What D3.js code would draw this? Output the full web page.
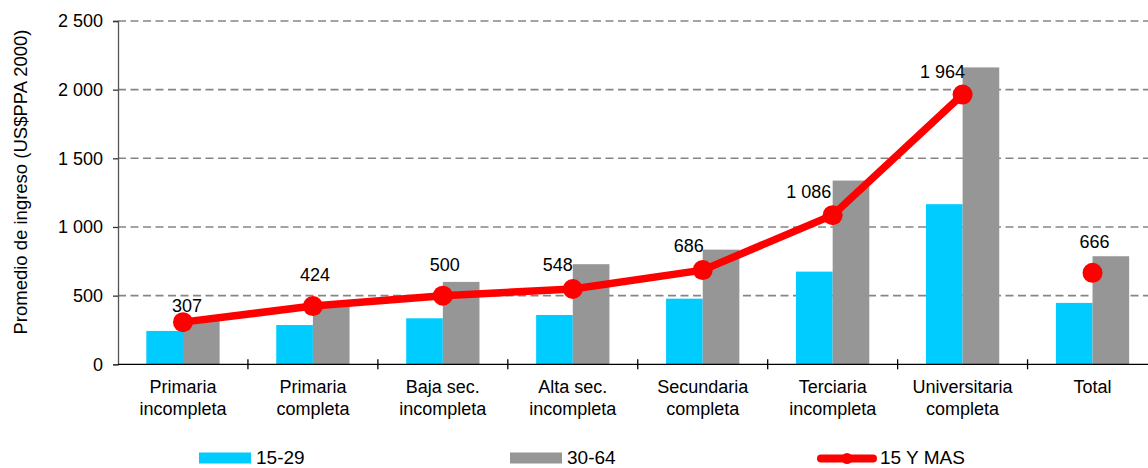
<!DOCTYPE html>
<html>
<head>
<meta charset="utf-8">
<script src="https://cdn.jsdelivr.net/npm/d3@7"></script>
<style>
  html, body { margin: 0; padding: 0; background: #fff; }
  svg { display: block; font-family: "Liberation Sans", Arial, sans-serif; }
</style>
</head>
<body>
<svg id="chart" width="1148" height="468"></svg>
<script>
const categories = [
  ["Primaria", "incompleta"],
  ["Primaria", "completa"],
  ["Baja sec.", "incompleta"],
  ["Alta sec.", "incompleta"],
  ["Secundaria", "completa"],
  ["Terciaria", "incompleta"],
  ["Universitaria", "completa"],
  ["Total"]
];
const seriesNames = ["15-29", "30-64", "15 Y MAS"];
const young = [243, 286, 335, 359, 478, 675, 1166, 447];
const adult = [316, 425, 600, 729, 835, 1338, 2162, 787];
const all15 = [307, 424, 500, 548, 686, 1086, 1964, 666];
const yTicks = [0, 500, 1000, 1500, 2000, 2500];
const yTitle = "Promedio de ingreso (US$PPA 2000)";
// label nudges (px) for the value labels [dx, dy]
const labelNudge = [[4, -16], [2, -31], [2, -31], [-15, -24], [-14, -24], [-24, -23], [-20, -23], [2, -31]];

const colors = { young: "#00CCFF", adult: "#969696", line: "#FF0000" };
const fmt = v => d3.format(",")(v).replace(/,/g, " ");

const svg = d3.select("#chart");
const mLeft = 118, mRight = 1157.5, mTop = 21, mBottom = 364.3;

const catKeys = categories.map(c => c.join(" "));
const x0 = d3.scaleBand().domain(catKeys).range([mLeft, mRight]).padding(0);
const bw = x0.bandwidth();
const x1 = d3.scaleBand().domain(["young", "adult"]).range([bw * 0.218, bw * 0.782]).padding(0);
const y = d3.scaleLinear().domain([0, 2500]).range([mBottom, mTop]);

// grid lines
svg.append("g").selectAll("line").data(yTicks.filter(t => t > 0)).join("line")
  .attr("x1", mLeft).attr("x2", 1148)
  .attr("y1", d => y(d)).attr("y2", d => y(d))
  .attr("stroke", "#858585").attr("stroke-width", 1.6)
  .attr("stroke-dasharray", "8,4.5");

// bars
const rows = catKeys.map((k, i) => ({ k, young: young[i], adult: adult[i] }));
const bars = svg.append("g");
["young", "adult"].forEach(s => {
  bars.selectAll("rect." + s).data(rows).join("rect")
    .attr("class", s)
    .attr("x", d => x0(d.k) + x1(s))
    .attr("width", x1.bandwidth())
    .attr("y", d => y(d[s]))
    .attr("height", d => y(0) - y(d[s]))
    .attr("fill", colors[s]);
});

// y axis
const yAxis = d3.axisLeft(y).tickValues(yTicks).tickSize(5).tickPadding(10)
  .tickFormat(d => fmt(d));
const gy = svg.append("g").attr("transform", `translate(${mLeft},0)`).call(yAxis);
gy.select(".domain").attr("stroke", "#555").attr("stroke-width", 1.3);
gy.selectAll(".tick line").attr("stroke", "#333").attr("stroke-width", 1.3);
gy.selectAll(".tick text").attr("font-size", 18).attr("fill", "#000")
  .attr("font-family", "Liberation Sans, Arial, sans-serif");

// x axis
svg.append("line").attr("x1", mLeft).attr("x2", 1148)
  .attr("y1", y(0)).attr("y2", y(0)).attr("stroke", "#000").attr("stroke-width", 1.3);
const boundaries = catKeys.map(k => x0(k)).slice(1);
svg.append("g").selectAll("line").data(boundaries).join("line")
  .attr("x1", d => d).attr("x2", d => d)
  .attr("y1", y(0) - 5).attr("y2", y(0) + 5)
  .attr("stroke", "#000").attr("stroke-width", 1.3);

// category labels
const cl = svg.append("g").selectAll("text").data(categories).join("text")
  .attr("text-anchor", "middle").attr("font-size", 18).attr("fill", "#000")
  .attr("transform", (d, i) => `translate(${x0(catKeys[i]) + bw / 2},0)`);
cl.selectAll("tspan").data(d => d).join("tspan")
  .attr("x", 0).attr("y", (d, j) => 393 + j * 22).text(d => d);

// line (connected for first 7, Total standalone)
const cx = i => x0(catKeys[i]) + bw / 2;
const lineData = all15.slice(0, 7).map((v, i) => [cx(i), y(v)]);
svg.append("path").attr("d", d3.line()(lineData))
  .attr("fill", "none").attr("stroke", colors.line).attr("stroke-width", 7.5)
  .attr("stroke-linejoin", "round");
svg.append("g").selectAll("circle").data(all15).join("circle")
  .attr("cx", (d, i) => cx(i)).attr("cy", d => y(d)).attr("r", 10)
  .attr("fill", colors.line);

// value labels
svg.append("g").selectAll("text").data(all15).join("text")
  .attr("x", (d, i) => cx(i) + labelNudge[i][0])
  .attr("y", (d, i) => y(d) + labelNudge[i][1] + 6)
  .attr("text-anchor", "middle").attr("font-size", 18).attr("fill", "#000")
  .text(d => fmt(d));

// y title
svg.append("text")
  .attr("transform", `translate(27,182) rotate(-90)`)
  .attr("text-anchor", "middle").attr("font-size", 18.5).attr("fill", "#000")
  .text(yTitle);

// legend
const lg = svg.append("g");
lg.append("rect").attr("x", 199).attr("y", 452.5).attr("width", 52).attr("height", 11).attr("fill", colors.young);
lg.append("text").attr("x", 256).attr("y", 464).attr("font-size", 19).text(seriesNames[0]);
lg.append("rect").attr("x", 510).attr("y", 452.5).attr("width", 52).attr("height", 11).attr("fill", colors.adult);
lg.append("text").attr("x", 567).attr("y", 464).attr("font-size", 19).text(seriesNames[1]);
lg.append("line").attr("x1", 821).attr("x2", 873).attr("y1", 458.5).attr("y2", 458.5)
  .attr("stroke", colors.line).attr("stroke-width", 8).attr("stroke-linecap", "round");
lg.append("circle").attr("cx", 847).attr("cy", 458.5).attr("r", 5.5).attr("fill", colors.line);
lg.append("text").attr("x", 880).attr("y", 464).attr("font-size", 19).text(seriesNames[2]);
</script>
</body>
</html>
